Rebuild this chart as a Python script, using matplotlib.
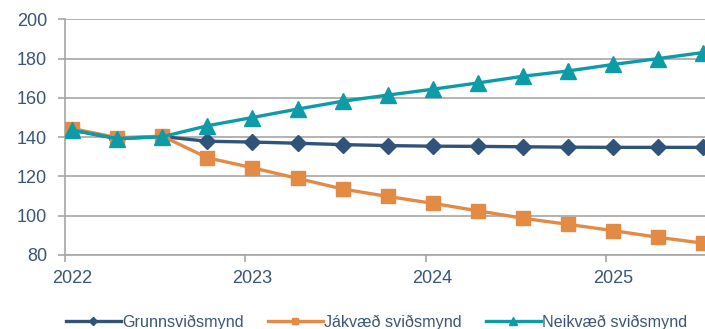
import matplotlib.pyplot as plt
import matplotlib.transforms as mtransforms

# quarterly points from early 2022 to mid 2025
x_start = 2022.04
n_points = 15
x_vals = [x_start + 0.25 * i for i in range(n_points)]

grunn = [143.6, 139.2, 140.3, 137.9, 137.5, 136.9, 136.2, 135.7,
         135.4, 135.3, 135.1, 134.9, 134.8, 134.8, 134.8]
jakvaed = [144.4, 139.7, 140.5, 129.5, 124.4, 119.0, 113.6, 109.8,
           106.3, 102.5, 98.7, 95.6, 92.4, 89.0, 86.0]
neikvaed = [143.6, 139.3, 140.2, 145.8, 150.0, 154.3, 158.3, 161.4,
            164.4, 167.6, 171.0, 173.7, 177.0, 180.0, 183.1]

labels = ["Grunnsviðsmynd", "Jákvæð sviðsmynd", "Neikvæð sviðsmynd"]
year_ticks = [2022, 2023, 2024, 2025]
y_ticks = [80, 100, 120, 140, 160, 180, 200]

text_color = "#3A5675"
grid_color = "#A6A6A6"

plt.rcParams["font.family"] = ["Liberation Sans", "DejaVu Sans"]

fig = plt.figure(figsize=(7.05, 3.29), dpi=100)
ax = fig.add_axes([0.0922, 0.225, 0.9078, 0.7163])

ax.plot(x_vals, grunn, color="#2F5379", lw=2.4, marker="D", ms=8.5,
        label=labels[0], zorder=3)
ax.plot(x_vals, jakvaed, color="#E38A45", lw=2.4, marker="s", ms=10,
        label=labels[1], zorder=4)
ax.plot(x_vals, neikvaed, color="#0E9BA8", lw=2.4, marker="^", ms=11.5,
        label=labels[2], zorder=5)

ax.set_xlim(2022, 2025.55)
ax.set_ylim(80, 200)
ax.set_yticks(y_ticks)
ax.set_xticks(year_ticks)
ax.set_xticklabels([str(y) for y in year_ticks])

ax.grid(axis="y", color=grid_color, lw=1.2)
ax.set_axisbelow(True)
for side in ["top", "right"]:
    ax.spines[side].set_visible(False)
ax.spines["left"].set_color(grid_color)
ax.spines["bottom"].set_color(grid_color)
ax.spines["left"].set_linewidth(1.2)
ax.spines["bottom"].set_linewidth(1.2)

ax.tick_params(axis="both", colors=grid_color, labelcolor=text_color,
               labelsize=13, length=5, width=1.2)
ax.tick_params(axis="y", pad=8)
ax.tick_params(axis="x", pad=6)

# year labels sit a little to the right of their tick
offset = mtransforms.ScaledTranslation(7 / 100, 0, fig.dpi_scale_trans)
for lbl in ax.get_xticklabels():
    lbl.set_transform(lbl.get_transform() + offset)

leg = ax.legend(loc="center", bbox_to_anchor=(0.487, -0.285), ncol=3,
                frameon=False, fontsize=11.6, handlelength=3.4,
                handletextpad=0.1, columnspacing=1.5, markerscale=0.5,
                borderaxespad=0, borderpad=0)
for t in leg.get_texts():
    t.set_color(text_color)

fig.savefig("out.png", dpi=100)
